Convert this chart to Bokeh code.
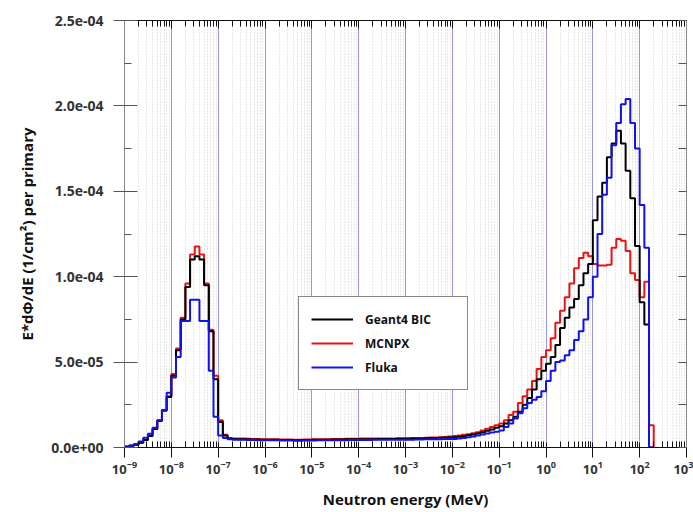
import numpy as np
from bokeh.plotting import figure
from bokeh.models import (FixedTicker, LogAxis, LinearAxis, Legend, LegendItem,
                          CustomJSTickFormatter)
from bokeh.embed import file_html
from bokeh.resources import INLINE

# ---------------- data ----------------
# log10 of bin edges (MeV), 10 bins per decade from 1e-9 to 10^2.3
log_edges = np.round(np.arange(-9.0, 2.31, 0.1), 1)

# values in units of 1e-6 (per primary)
geant4_thermal = [0.5, 1.0, 1.6, 2.8, 4.4, 6.8, 10.8, 15.5, 21.5, 29.5, 42, 57, 75, 94,
                  110, 112, 110, 95, 68, 40, 15, 7]
geant4_flat = [5.2, 5.0, 4.9, 4.9, 4.8, 4.7, 4.7, 4.6, 4.6, 4.5,
               4.5, 4.4, 4.4, 4.4, 4.3, 4.3, 4.4, 4.4, 4.5, 4.5,
               4.6, 4.6, 4.7, 4.7, 4.7, 4.8, 4.8, 4.8, 4.9, 4.9,
               4.9, 4.9, 5.0, 5.0, 5.0, 5.0, 5.1, 5.1, 5.1, 5.2,
               5.2, 5.3, 5.4, 5.5, 5.6, 5.7, 5.8, 5.9]
geant4_fast = [6.0, 6.3, 6.7, 7.1, 7.6, 8.2, 9.0, 9.8, 10.6, 11.5,
               12.5, 14.0, 16.0, 18.0, 21.0, 25.0, 29.0, 34.0, 40.0, 45.0,
               49.0, 53.0, 60.0, 70.0, 76.0, 82.0, 87.0, 95.0, 102.0, 107.5,
               133.0, 147.0, 155.0, 170.0, 178.0, 185.5, 178.0, 162.0, 146.0, 118.0,
               85.0, 72.0, 0.0]

mcnpx_thermal = [0.5, 1.0, 1.6, 2.8, 4.5, 7.0, 11, 16, 22, 30, 43, 58, 76, 96,
                 113, 117.7, 113, 96, 69, 42, 16, 7.5]
mcnpx_flat = [5.5, 5.3, 5.2, 5.2, 5.1, 5.0, 5.0, 4.9, 4.9, 4.8,
              4.8, 4.7, 4.7, 4.7, 4.6, 4.6, 4.7, 4.7, 4.8, 4.8,
              4.9, 4.9, 5.0, 5.0, 5.0, 5.1, 5.1, 5.1, 5.2, 5.2,
              5.2, 5.2, 5.3, 5.3, 5.3, 5.3, 5.4, 5.4, 5.4, 5.5,
              5.5, 5.6, 5.7, 5.8, 5.9, 6.0, 6.2, 6.4]
mcnpx_fast = [6.7, 7.0, 7.4, 7.8, 8.3, 9.0, 10.0, 11.0, 12.0, 13.0,
              14.0, 16.0, 19.0, 21.0, 26.0, 30.0, 34.0, 39.0, 46.0, 53.0,
              57.0, 64.0, 73.0, 80.0, 88.0, 96.0, 105.0, 111.0, 114.0, 112.0,
              107.5, 106.5, 106.5, 107.0, 117.0, 122.0, 121.0, 115.0, 102.0, 98.0,
              88.0, 97.0, 13.0]

fluka_thermal = [0.6, 1.2, 2.1, 3.5, 5.7, 8.0, 11.5, 16, 22, 32, 41, 53, 74, 74,
                 86.5, 86.5, 74, 74, 45, 18, 7, 5.5]
fluka_flat = [4.8, 4.6, 4.5, 4.5, 4.4, 4.4, 4.3, 4.3, 4.2, 4.2,
              4.2, 4.1, 4.1, 4.1, 4.0, 4.0, 4.1, 4.1, 4.1, 4.2,
              4.2, 4.2, 4.3, 4.3, 4.3, 4.3, 4.4, 4.4, 4.4, 4.4,
              4.4, 4.5, 4.5, 4.5, 4.5, 4.5, 4.6, 4.6, 4.6, 4.6,
              4.7, 4.7, 4.8, 4.8, 4.9, 4.9, 5.0, 5.0]
fluka_fast = [5.0, 5.3, 5.6, 6.0, 6.5, 7.0, 7.6, 8.2, 8.8, 9.2,
              10.0, 12.0, 14.0, 17.0, 20.0, 23.0, 26.0, 28.0, 29.5, 33.0,
              39.0, 45.0, 50.0, 51.0, 54.0, 57.0, 63.0, 68.0, 75.0, 88.0,
              100.0, 125.0, 148.0, 158.0, 177.0, 190.0, 201.0, 204.0, 190.0, 175.0,
              142.0, 117.0, 0.0]

series_names = ["Geant4 BIC", "MCNPX", "Fluka"]
series_colors = ["#000000", "#ee1111", "#1111ee"]

x_major = [-9, -8, -7, -6, -5, -4, -3, -2, -1, 0, 1, 2, 3]
y_major = [0.0, 5e-5, 1e-4, 1.5e-4, 2e-4, 2.5e-4]
y_minor = [2.5e-5, 7.5e-5, 1.25e-4, 1.75e-4, 2.25e-4]

# ---------------- figure ----------------
FONT = "Open Sans"
edges = 10.0 ** log_edges

p = figure(width=693, height=512, x_axis_type="log",
           x_range=(1e-9, 1e3), y_range=(0, 2.5e-4),
           output_backend="svg", toolbar_location=None,
           min_border_left=124, min_border_right=7,
           min_border_top=20, min_border_bottom=65)
p.outline_line_color = None
p.background_fill_color = "white"

major_ticks = [10.0 ** k for k in x_major]
minor_ticks = [m * 10.0 ** k for k in x_major[:-1] for m in range(2, 10)]

def hist(thermal, flat, fast):
    v = np.array(thermal + flat + fast) * 1e-6
    return np.append(v, 0.0)

g = hist(geant4_thermal, geant4_flat, geant4_fast)
m = hist(mcnpx_thermal, mcnpx_flat, mcnpx_fast)
f = hist(fluka_thermal, fluka_flat, fluka_fast)

r_m = p.step(edges, m, mode="after", line_color=series_colors[1], line_width=2)
r_g = p.step(edges, g, mode="after", line_color=series_colors[0], line_width=2)
r_f = p.step(edges, f, mode="after", line_color=series_colors[2], line_width=2)

# grids
p.xgrid.ticker = FixedTicker(ticks=major_ticks, minor_ticks=minor_ticks)
p.xgrid.grid_line_color = "#8c8ce0"
p.xgrid.grid_line_alpha = 0.9
p.xgrid.minor_grid_line_color = "#c4c4c4"
p.xgrid.minor_grid_line_dash = "1 2"
p.xgrid.minor_grid_line_alpha = 0.8
p.ygrid.grid_line_color = None

yfmt = CustomJSTickFormatter(code="""
if (tick == 0) return "0.0e+00";
const e = Math.floor(Math.log10(Math.abs(tick)) + 1e-9);
const mm = tick / Math.pow(10, e);
const s = e < 0 ? "-" : "+";
const a = Math.abs(e);
return mm.toFixed(1) + "e" + s + (a < 10 ? "0" + a : "" + a);
""")

# bottom axis
xa = p.xaxis[0]
xa.ticker = FixedTicker(ticks=major_ticks, minor_ticks=minor_ticks)
xa.axis_label = "Neutron energy (MeV)"
xa.axis_label_text_font = FONT
xa.axis_label_text_font_style = "bold"
xa.axis_label_text_font_size = "15px"
xa.axis_label_text_color = "#111111"
xa.axis_label_standoff = 12
xa.major_label_text_font = FONT
xa.major_label_text_font_style = "bold"
xa.major_label_text_font_size = "13px"
xa.major_label_text_color = "#333333"
xa.major_label_standoff = 3
xa.major_tick_out = 10
xa.major_tick_in = 5
xa.minor_tick_in = 6
xa.minor_tick_out = 0
xa.axis_line_color = "#111111"
xa.major_tick_line_color = "#111111"
xa.minor_tick_line_color = "#111111"

# left axis
ya = p.yaxis[0]
ya.ticker = FixedTicker(ticks=y_major, minor_ticks=y_minor)
ya.formatter = yfmt
ya.axis_label = "E*dΦ/dE (1/cm²) per primary"
ya.axis_label_text_font = FONT
ya.axis_label_text_font_style = "bold"
ya.axis_label_text_font_size = "15px"
ya.axis_label_text_color = "#111111"
ya.axis_label_standoff = 11
ya.major_label_text_font = FONT
ya.major_label_text_font_style = "bold"
ya.major_label_text_font_size = "14px"
ya.major_label_text_color = "#333333"
ya.major_label_standoff = 10
ya.major_tick_out = 11
ya.major_tick_in = 13
ya.minor_tick_in = 7
ya.minor_tick_out = 0
ya.axis_line_color = "#888888"
ya.major_tick_line_color = "#555555"
ya.minor_tick_line_color = "#555555"

# top axis (ticks only)
top = LogAxis(ticker=FixedTicker(ticks=major_ticks, minor_ticks=minor_ticks))
top.major_label_text_font_size = "0px"
top.major_label_text_color = None
top.major_tick_in = 8
top.major_tick_out = 0
top.minor_tick_in = 6
top.minor_tick_out = 0
top.axis_line_color = "#111111"
top.major_tick_line_color = "#111111"
top.minor_tick_line_color = "#111111"
top.major_label_standoff = 0
p.add_layout(top, "above")

# right axis (ticks only)
right = LinearAxis(ticker=FixedTicker(ticks=y_major, minor_ticks=y_minor))
right.major_label_text_font_size = "0px"
right.major_label_text_color = None
right.major_tick_in = 8
right.major_tick_out = 0
right.minor_tick_in = 8
right.minor_tick_out = 0
right.axis_line_color = "#888888"
right.major_tick_line_color = "#555555"
right.minor_tick_line_color = "#555555"
right.major_label_standoff = 0
p.add_layout(right, "right")

legend = Legend(items=[LegendItem(label=series_names[0], renderers=[r_g]),
                       LegendItem(label=series_names[1], renderers=[r_m]),
                       LegendItem(label=series_names[2], renderers=[r_f])],
                location=(174, 57))
legend.label_text_font = FONT
legend.label_text_font_style = "bold"
legend.label_text_font_size = "12px"
legend.label_text_color = "#111111"
legend.border_line_color = "#111111"
legend.border_line_width = 1
legend.background_fill_alpha = 1.0
legend.glyph_width = 42
legend.glyph_height = 20
legend.label_height = 20
legend.label_width = 90
legend.label_standoff = 12
legend.padding = 12
legend.spacing = 4
legend.margin = 0
p.add_layout(legend, "center")

open("out.html", "w").write(file_html(p, INLINE))
